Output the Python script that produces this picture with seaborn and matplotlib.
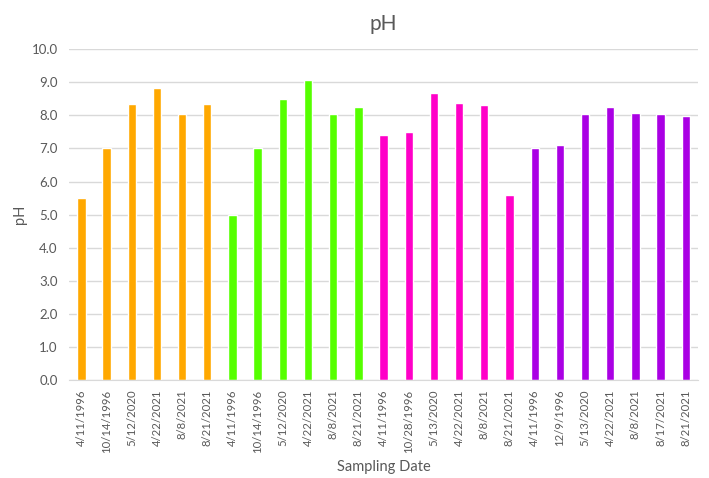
import pandas as pd
import numpy as np
import matplotlib.pyplot as plt
import seaborn as sns

sns.set_style("white")
plt.rcParams["font.family"] = ["Lato", "DejaVu Sans"]

# data
dates = ["4/11/1996", "10/14/1996", "5/12/2020", "4/22/2021", "8/8/2021", "8/21/2021",
         "4/11/1996", "10/14/1996", "5/12/2020", "4/22/2021", "8/8/2021", "8/21/2021",
         "4/11/1996", "10/28/1996", "5/13/2020", "4/22/2021", "8/8/2021", "8/21/2021",
         "4/11/1996", "12/9/1996", "5/13/2020", "4/22/2021", "8/8/2021", "8/17/2021", "8/21/2021"]
groups = ["A"] * 6 + ["B"] * 6 + ["C"] * 6 + ["D"] * 7
ph = [5.5, 7.0, 8.34, 8.83, 8.04, 8.34,
      5.0, 7.0, 8.5, 9.07, 8.04, 8.25,
      7.4, 7.49, 8.68, 8.37, 8.31, 5.6,
      7.0, 7.1, 8.04, 8.25, 8.08, 8.04, 7.98]
colors = {"A": "#FFA800", "B": "#55FF00", "C": "#FF00C8", "D": "#AA00E4"}

df = pd.DataFrame({"pos": range(len(dates)), "date": dates, "group": groups, "pH": ph})

grey = "#595959"
fig = plt.figure(figsize=(7.09, 4.78), dpi=100)
ax = fig.add_axes([0.097, 0.205, 0.888, 0.692])

sns.barplot(data=df, x="pos", y="pH", hue="group", palette=colors, dodge=False,
            width=0.33, saturation=1, legend=False, ax=ax)

ax.set_ylim(0, 10)
ax.set_yticks(np.arange(0, 10.5, 1))
ax.set_yticklabels([f"{v:.1f}" for v in np.arange(0, 10.5, 1)], color=grey, fontsize=9.5)
ax.yaxis.grid(True, color="#d9d9d9", linewidth=1)
ax.set_axisbelow(True)

ax.set_xlim(-0.5, len(dates) - 0.5)
ax.set_xticks(range(len(dates)))
ax.set_xticklabels(dates, rotation=90, color=grey, fontsize=8.2)
ax.set_xticks(np.arange(-0.5, len(dates), 1), minor=True)
ax.tick_params(axis="x", which="major", length=0, pad=7)
ax.tick_params(axis="x", which="minor", length=5, color="#d9d9d9", width=1)
ax.tick_params(axis="y", length=0, pad=8)

for s in ["top", "right", "left"]:
    ax.spines[s].set_visible(False)
ax.spines["bottom"].set_color("#d9d9d9")

ax.set_xlabel("Sampling Date", color=grey, fontsize=10.5, labelpad=5)
ax.set_ylabel("pH", color=grey, fontsize=10.5, labelpad=3)
ax.set_title("pH", color=grey, fontsize=15, pad=14)

fig.savefig("out.png", dpi=100)
